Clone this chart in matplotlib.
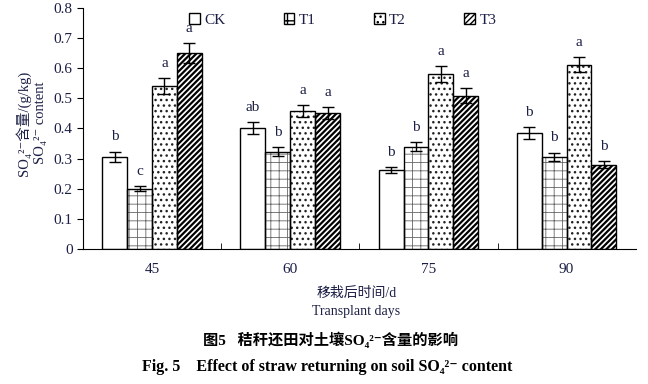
import matplotlib
matplotlib.use("Agg")
import matplotlib.pyplot as plt
import numpy as np

plt.rcParams['font.family'] = ['Liberation Serif', 'Noto Sans CJK SC', 'DejaVu Sans']

days = ['45', '60', '75', '90']
series = ['CK', 'T1', 'T2', 'T3']
ck = [0.306, 0.402, 0.262, 0.385]
t1 = [0.200, 0.322, 0.339, 0.306]
t2 = [0.542, 0.458, 0.581, 0.611]
t3 = [0.651, 0.452, 0.508, 0.279]
ck_err = [0.017, 0.020, 0.010, 0.020]
t1_err = [0.008, 0.015, 0.015, 0.014]
t2_err = [0.026, 0.020, 0.027, 0.025]
t3_err = [0.032, 0.020, 0.025, 0.012]
ck_lab = ['b', 'ab', 'b', 'b']
t1_lab = ['c', 'b', 'b', 'b']
t2_lab = ['a', 'a', 'a', 'a']
t3_lab = ['a', 'a', 'a', 'b']

vals = [ck, t1, t2, t3]
errs = [ck_err, t1_err, t2_err, t3_err]
labs = [ck_lab, t1_lab, t2_lab, t3_lab]
hatches = ['', '++', '...', '//////']
hatch_cols = ['black', '#666666', '#222222', 'black']
hatch_lw = [1.0, 0.6, 1.0, 1.6]

txtc = '#1c1f45'

fig = plt.figure(figsize=(6.48, 3.84), dpi=100)
ax = fig.add_axes([0.128, 0.352, 0.853, 0.627])

x = np.arange(len(days))
w = 0.18
handles = []
for i, (v, e, l, h) in enumerate(zip(vals, errs, labs, hatches)):
    pos = x + (i - 1.5) * w
    with plt.rc_context({'hatch.linewidth': hatch_lw[i], 'hatch.color': hatch_cols[i]}):
        hb = ax.bar(pos, v, w, facecolor='white', edgecolor=hatch_cols[i], hatch=h,
                    linewidth=0, zorder=2)
    ax.bar(pos, v, w, fill=False, edgecolor='black', linewidth=1.0, zorder=2.5)
    ax.errorbar(pos, v, yerr=e, fmt='none', ecolor='black', elinewidth=1.0,
                capsize=4, capthick=1.0, zorder=3)
    with plt.rc_context({'hatch.linewidth': hatch_lw[i], 'hatch.color': hatch_cols[i]}):
        proxy = plt.Rectangle((0, 0), 1, 1, facecolor='white', edgecolor='black',
                              hatch=h, linewidth=1.0, label=series[i])
    handles.append(proxy)
    for p, vv, ee, ll in zip(pos, v, e, l):
        ax.text(p, vv + ee + 0.027, ll, ha='center', va='bottom',
                fontsize=11, color=txtc)

ax.set_xlim(-0.5, 3.5)
ax.set_ylim(0, 0.8)
ax.set_yticks(np.arange(0, 0.81, 0.1))
ax.set_yticklabels(['0'] + ['%.1f' % t for t in np.arange(0.1, 0.81, 0.1)])
ax.set_xticks(x)
ax.set_xticklabels(days)
ax.set_xticks(x[:-1] + 0.5, minor=True)
ax.tick_params(axis='x', which='major', length=0, labelsize=11, labelcolor=txtc, pad=10)
ax.tick_params(axis='x', which='minor', direction='in', length=4)
ax.tick_params(axis='y', direction='out', length=4, labelsize=11, labelcolor=txtc)
for s in ['top', 'right']:
    ax.spines[s].set_visible(False)

leg = ax.legend(handles=handles, ncol=4, loc='upper center', bbox_to_anchor=(0.47, 1.035),
                frameon=False, fontsize=11, handlelength=0.7, handleheight=0.7,
                handletextpad=0.3, columnspacing=3.8, labelcolor=txtc)

fig.text(0.048, 0.68, 'SO₄²⁻含量/(g/kg)\nSO₄²⁻ content', rotation=90,
         ha='center', va='center', fontsize=10.5, color=txtc, linespacing=1.35,
         multialignment='center')

fig.text(0.55, 0.237, '移栽后时间/d', ha='center', va='center', fontsize=10, color=txtc)
fig.text(0.55, 0.19, 'Transplant days', ha='center', va='center', fontsize=10, color=txtc)
fig.text(0.51, 0.115, '图5   秸秆还田对土壤SO₄²⁻含量的影响', ha='center', va='center',
         fontsize=11, fontweight='bold', color='black')
fig.text(0.505, 0.045, 'Fig. 5    Effect of straw returning on soil SO₄²⁻ content',
         ha='center', va='center', fontsize=11.5, fontweight='bold', color='black')

fig.savefig('out.png', dpi=100)
